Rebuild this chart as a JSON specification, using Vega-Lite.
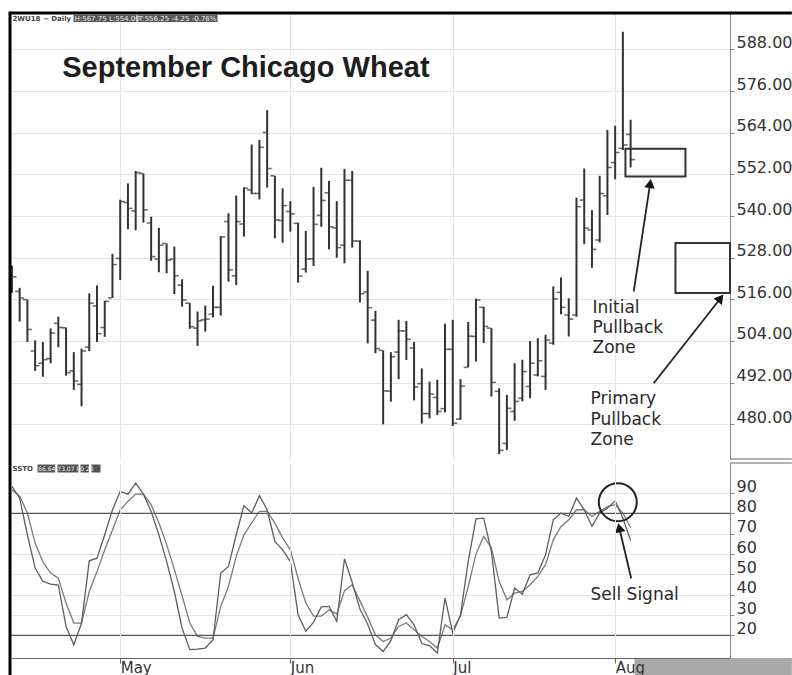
{
"$schema": "https://vega.github.io/schema/vega-lite/v6.json",
"padding": {"left": 8, "top": 10, "right": 0, "bottom": 0},
"background": "white",
"config": {"view": {"stroke": null}, "font": "DejaVu Sans", "axis": {"labelFont": "DejaVu Sans"}},
"spacing": 4,
"bounds": "flush",
"resolve": {"scale": {"x": "shared", "y": "independent"}},
"datasets": {"bars": [
{"i":1,"date":"2018-04-11","open":523.5,"high":525.7,"low":517.9,"close":522.5,"k":93.3,"d":91.6},
{"i":2,"date":"2018-04-12","open":518.3,"high":519.3,"low":509.6,"close":516.4,"k":87.5,"d":88.5},
{"i":3,"date":"2018-04-13","open":515.9,"high":515.9,"low":503.7,"close":507.3,"k":69.5,"d":80.2},
{"i":4,"date":"2018-04-16","open":501.1,"high":504.2,"low":495.4,"close":496.9,"k":53.1,"d":65.4},
{"i":5,"date":"2018-04-17","open":497.6,"high":503.7,"low":493.7,"close":498.6,"k":46.6,"d":56.1},
{"i":6,"date":"2018-04-18","open":498.9,"high":507.6,"low":497.6,"close":506.3,"k":45.2,"d":50.7},
{"i":7,"date":"2018-04-19","open":509.1,"high":511.0,"low":502.2,"close":507.9,"k":44.8,"d":48.2},
{"i":8,"date":"2018-04-20","open":507.8,"high":507.9,"low":494.0,"close":494.9,"k":24.4,"d":35.9},
{"i":9,"date":"2018-04-23","open":495.4,"high":500.8,"low":489.9,"close":492.5,"k":15.4,"d":26.1},
{"i":10,"date":"2018-04-24","open":491.5,"high":501.8,"low":485.2,"close":501.1,"k":26.1,"d":26.1},
{"i":11,"date":"2018-04-25","open":502.2,"high":517.7,"low":501.1,"close":514.9,"k":56.7,"d":41.6},
{"i":12,"date":"2018-04-26","open":514.1,"high":520.0,"low":503.7,"close":506.1,"k":58.0,"d":51.5},
{"i":13,"date":"2018-04-27","open":507.9,"high":515.6,"low":505.2,"close":515.4,"k":69.5,"d":62.1},
{"i":14,"date":"2018-04-30","open":516.4,"high":529.1,"low":516.4,"close":526.0,"k":81.8,"d":71.8},
{"i":15,"date":"2018-05-01","open":527.8,"high":544.7,"low":521.6,"close":544.2,"k":90.8,"d":81.8},
{"i":16,"date":"2018-05-02","open":543.9,"high":549.4,"low":536.2,"close":542.2,"k":89.5,"d":85.9},
{"i":17,"date":"2018-05-03","open":541.5,"high":553.0,"low":535.9,"close":552.5,"k":94.9,"d":89.5},
{"i":18,"date":"2018-05-04","open":552.3,"high":552.3,"low":538.1,"close":541.8,"k":89.5,"d":89.5},
{"i":19,"date":"2018-05-07","open":538.0,"high":539.8,"low":527.1,"close":528.3,"k":81.0,"d":84.3},
{"i":20,"date":"2018-05-08","open":527.6,"high":536.6,"low":523.8,"close":531.6,"k":69.5,"d":75.4},
{"i":21,"date":"2018-05-09","open":532.1,"high":532.1,"low":523.5,"close":527.3,"k":56.4,"d":64.8},
{"i":22,"date":"2018-05-10","open":527.6,"high":531.2,"low":517.5,"close":522.8,"k":41.6,"d":52.5},
{"i":23,"date":"2018-05-11","open":520.1,"high":521.8,"low":513.9,"close":515.8,"k":23.6,"d":39.5},
{"i":24,"date":"2018-05-14","open":514.9,"high":514.9,"low":507.5,"close":508.1,"k":13.0,"d":26.1},
{"i":25,"date":"2018-05-15","open":507.7,"high":512.5,"low":502.6,"close":509.8,"k":13.3,"d":19.5},
{"i":26,"date":"2018-05-16","open":510.1,"high":514.2,"low":506.7,"close":510.3,"k":13.8,"d":18.7},
{"i":27,"date":"2018-05-17","open":511.7,"high":519.9,"low":510.8,"close":513.7,"k":17.9,"d":18.7},
{"i":28,"date":"2018-05-18","open":513.7,"high":534.2,"low":511.3,"close":534.0,"k":50.7,"d":34.3},
{"i":29,"date":"2018-05-21","open":538.4,"high":540.8,"low":521.1,"close":524.5,"k":53.9,"d":44.1},
{"i":30,"date":"2018-05-22","open":522.8,"high":545.9,"low":520.1,"close":538.4,"k":69.5,"d":58.9},
{"i":31,"date":"2018-05-23","open":537.7,"high":548.3,"low":534.1,"close":548.0,"k":83.8,"d":69.5},
{"i":32,"date":"2018-05-24","open":547.5,"high":560.6,"low":546.3,"close":546.5,"k":80.2,"d":75.4},
{"i":33,"date":"2018-05-25","open":546.5,"high":561.9,"low":544.8,"close":559.8,"k":88.7,"d":81.0},
{"i":34,"date":"2018-05-29","open":564.1,"high":570.5,"low":548.2,"close":553.7,"k":81.8,"d":81.0},
{"i":35,"date":"2018-05-30","open":551.6,"high":551.6,"low":533.6,"close":538.9,"k":66.2,"d":75.2},
{"i":36,"date":"2018-05-31","open":538.7,"high":548.0,"low":532.3,"close":543.0,"k":62.1,"d":68.0},
{"i":37,"date":"2018-06-01","open":541.3,"high":544.3,"low":535.5,"close":540.6,"k":56.4,"d":62.1},
{"i":38,"date":"2018-06-04","open":537.9,"high":538.1,"low":520.8,"close":522.7,"k":30.2,"d":48.0},
{"i":39,"date":"2018-06-05","open":524.7,"high":535.7,"low":523.7,"close":527.6,"k":22.0,"d":36.0},
{"i":40,"date":"2018-06-06","open":527.7,"high":548.4,"low":525.6,"close":537.6,"k":26.5,"d":29.5},
{"i":41,"date":"2018-06-07","open":540.2,"high":553.9,"low":536.9,"close":544.5,"k":34.0,"d":29.5},
{"i":42,"date":"2018-06-08","open":546.7,"high":550.1,"low":530.4,"close":536.9,"k":34.3,"d":32.5},
{"i":43,"date":"2018-06-11","open":536.6,"high":544.3,"low":528.0,"close":530.9,"k":26.9,"d":30.5},
{"i":44,"date":"2018-06-12","open":531.6,"high":553.6,"low":526.4,"close":550.3,"k":57.7,"d":42.0},
{"i":45,"date":"2018-06-13","open":550.3,"high":553.0,"low":530.9,"close":532.8,"k":46.0,"d":44.9},
{"i":46,"date":"2018-06-14","open":532.8,"high":533.0,"low":515.1,"close":517.6,"k":33.0,"d":37.0},
{"i":47,"date":"2018-06-15","open":518.1,"high":524.2,"low":503.3,"close":513.6,"k":25.5,"d":29.0},
{"i":48,"date":"2018-06-18","open":510.0,"high":512.7,"low":500.5,"close":501.8,"k":15.5,"d":20.3},
{"i":49,"date":"2018-06-19","open":501.3,"high":501.3,"low":480.0,"close":489.6,"k":12.1,"d":17.0},
{"i":50,"date":"2018-06-20","open":489.6,"high":500.8,"low":486.5,"close":499.5,"k":17.4,"d":18.7},
{"i":51,"date":"2018-06-21","open":500.8,"high":510.1,"low":493.0,"close":506.9,"k":27.7,"d":24.4},
{"i":52,"date":"2018-06-22","open":506.9,"high":509.8,"low":498.5,"close":504.5,"k":30.2,"d":26.1},
{"i":53,"date":"2018-06-25","open":502.0,"high":503.7,"low":486.9,"close":490.8,"k":25.2,"d":22.8},
{"i":54,"date":"2018-06-26","open":491.7,"high":496.1,"low":480.2,"close":483.1,"k":16.0,"d":19.5},
{"i":55,"date":"2018-06-27","open":483.1,"high":492.3,"low":481.7,"close":488.7,"k":15.0,"d":17.0},
{"i":56,"date":"2018-06-28","open":487.7,"high":492.8,"low":482.7,"close":483.7,"k":11.3,"d":13.8},
{"i":57,"date":"2018-06-29","open":484.5,"high":509.0,"low":483.4,"close":501.6,"k":38.4,"d":25.2},
{"i":58,"date":"2018-07-02","open":501.6,"high":510.1,"low":479.5,"close":480.3,"k":21.1,"d":22.8},
{"i":59,"date":"2018-07-03","open":481.5,"high":493.0,"low":481.3,"close":491.0,"k":30.0,"d":29.5},
{"i":60,"date":"2018-07-05","open":496.4,"high":509.5,"low":496.4,"close":505.4,"k":56.4,"d":44.0},
{"i":61,"date":"2018-07-06","open":505.3,"high":516.2,"low":498.1,"close":515.8,"k":77.3,"d":60.0},
{"i":62,"date":"2018-07-09","open":513.7,"high":513.9,"low":503.4,"close":508.2,"k":77.7,"d":68.7},
{"i":63,"date":"2018-07-10","open":507.7,"high":507.7,"low":488.0,"close":492.1,"k":61.3,"d":63.0},
{"i":64,"date":"2018-07-11","open":489.5,"high":490.4,"low":471.4,"close":472.5,"k":28.5,"d":46.6},
{"i":65,"date":"2018-07-12","open":474.5,"high":488.5,"low":472.6,"close":484.6,"k":28.9,"d":37.5},
{"i":66,"date":"2018-07-13","open":483.7,"high":497.6,"low":481.0,"close":486.6,"k":43.3,"d":40.8},
{"i":67,"date":"2018-07-16","open":487.5,"high":498.6,"low":486.6,"close":495.2,"k":40.3,"d":41.6},
{"i":68,"date":"2018-07-17","open":490.9,"high":504.0,"low":487.5,"close":497.6,"k":49.8,"d":44.9},
{"i":69,"date":"2018-07-18","open":494.2,"high":504.8,"low":493.8,"close":498.3,"k":50.7,"d":49.0},
{"i":70,"date":"2018-07-19","open":493.8,"high":505.8,"low":489.9,"close":504.3,"k":59.7,"d":54.8},
{"i":71,"date":"2018-07-20","open":503.4,"high":519.7,"low":502.9,"close":516.1,"k":76.9,"d":67.0},
{"i":72,"date":"2018-07-23","open":518.0,"high":522.3,"low":511.7,"close":513.7,"k":80.2,"d":73.6},
{"i":73,"date":"2018-07-24","open":511.5,"high":516.3,"low":505.3,"close":510.3,"k":78.5,"d":76.9},
{"i":74,"date":"2018-07-25","open":511.5,"high":545.3,"low":511.0,"close":542.7,"k":87.5,"d":81.8},
{"i":75,"date":"2018-07-26","open":544.6,"high":553.7,"low":531.9,"close":536.5,"k":81.8,"d":81.8},
{"i":76,"date":"2018-07-27","open":536.0,"high":541.7,"low":525.1,"close":530.4,"k":73.6,"d":78.5},
{"i":77,"date":"2018-07-30","open":533.1,"high":551.6,"low":532.4,"close":546.5,"k":80.2,"d":81.0},
{"i":78,"date":"2018-07-31","open":545.8,"high":564.8,"low":540.3,"close":554.0,"k":82.6,"d":83.4},
{"i":79,"date":"2018-08-01","open":555.4,"high":566.0,"low":550.6,"close":558.3,"k":86.2,"d":84.3},
{"i":80,"date":"2018-08-02","open":559.5,"high":593.1,"low":559.0,"close":560.5,"k":77.7,"d":80.2},
{"i":81,"date":"2018-08-03","open":563.5,"high":567.75,"low":554.0,"close":556.25,"k":66.64,"d":73.07}
]},
"vconcat": [
{
"width": 720, "height": 446,
"data": {"name": "bars"},
"layer": [
{"mark": {"type": "rule", "color": "#333", "strokeWidth": 2},
 "encoding": {
  "x": {"field": "i", "type": "quantitative", "scale": {"domain": [0.75, 93.85], "nice": false, "zero": false},
   "axis": {"values": [15, 37, 58, 79], "tickCount": 40, "labels": false, "ticks": false, "domain": false, "grid": true, "gridColor": "#e4e4e4", "title": null}},
  "y": {"field": "low", "type": "quantitative", "scale": {"domain": [470, 598.5], "nice": false, "zero": false},
   "axis": {"orient": "right", "values": [480, 492, 504, 516, 528, 540, 552, 564, 576, 588], "tickCount": 40, "format": ".2f", "grid": true, "gridColor": "#e4e4e4", "domainColor": "#888", "tickColor": "#888", "tickSize": 4, "labelFontSize": 16, "labelColor": "#333", "labelBaseline": "alphabetic", "labelOffset": -2, "labelOverlap": false, "labelPadding": 2, "title": null}},
  "y2": {"field": "high"}}},
{"data": {"values": [{}]}, "mark": {"type": "rule", "color": "#000", "strokeWidth": 3, "clip": false},
 "encoding": {"x": {"datum": 0.75, "type": "quantitative", "scale": {"domain": [0.75, 93.85], "nice": false, "zero": false}},
  "y": {"datum": 598.9, "type": "quantitative", "scale": {"domain": [470, 598.5], "nice": false, "zero": false}},
  "y2": {"datum": 468.8}}},
{"data": {"values": [{}]}, "mark": {"type": "rule", "color": "#000", "strokeWidth": 3, "clip": false},
 "encoding": {"x": {"datum": 0.75, "type": "quantitative", "scale": {"domain": [0.75, 93.85], "nice": false, "zero": false}},
  "x2": {"datum": 101.85},
  "y": {"datum": 598.5, "type": "quantitative", "scale": {"domain": [470, 598.5], "nice": false, "zero": false}}}},
{"data": {"values": [{}]}, "mark": {"type": "rule", "color": "#666", "strokeWidth": 1, "clip": false},
 "encoding": {"x": {"datum": 93.85, "type": "quantitative", "scale": {"domain": [0.75, 93.85], "nice": false, "zero": false}},
  "x2": {"datum": 101.85},
  "y": {"datum": 470, "type": "quantitative", "scale": {"domain": [470, 598.5], "nice": false, "zero": false}}}},
{"mark": {"type": "tick", "orient": "horizontal", "size": 4, "thickness": 1.6, "xOffset": -2.5, "color": "#333", "clip": true},
 "encoding": {"x": {"field": "i", "type": "quantitative", "title": null, "scale": {"domain": [0.75, 93.85], "nice": false, "zero": false}},
  "y": {"field": "open", "type": "quantitative", "title": null, "scale": {"domain": [470, 598.5], "nice": false, "zero": false}}}},
{"mark": {"type": "tick", "orient": "horizontal", "size": 4, "thickness": 1.6, "xOffset": 2.5, "color": "#333", "clip": true},
 "encoding": {"x": {"field": "i", "type": "quantitative", "title": null, "scale": {"domain": [0.75, 93.85], "nice": false, "zero": false}},
  "y": {"field": "close", "type": "quantitative", "title": null, "scale": {"domain": [470, 598.5], "nice": false, "zero": false}}}},
{"data": {"values": [{}]}, "mark": {"type": "text", "text": "September Chicago Wheat", "font": "Liberation Sans", "fontWeight": "bold", "fontSize": 29, "align": "left", "baseline": "alphabetic", "color": "#1e1e1e"},
 "encoding": {"x": {"datum": 7.5, "type": "quantitative", "scale": {"domain": [0.75, 93.85], "nice": false, "zero": false}},
  "y": {"datum": 580.2, "type": "quantitative", "scale": {"domain": [470, 598.5], "nice": false, "zero": false}}}},
{"data": {"values": [{}]}, "mark": {"type": "rect", "color": "#555"},
 "encoding": {"x": {"datum": 8.96, "type": "quantitative", "scale": {"domain": [0.75, 93.85], "nice": false, "zero": false}}, "x2": {"datum": 17.11},
  "y": {"datum": 598.07, "type": "quantitative", "scale": {"domain": [470, 598.5], "nice": false, "zero": false}}, "y2": {"datum": 595.9}}},
{"data": {"values": [{}]}, "mark": {"type": "rect", "color": "#555"},
 "encoding": {"x": {"datum": 17.24, "type": "quantitative", "scale": {"domain": [0.75, 93.85], "nice": false, "zero": false}}, "x2": {"datum": 27.58},
  "y": {"datum": 598.07, "type": "quantitative", "scale": {"domain": [470, 598.5], "nice": false, "zero": false}}, "y2": {"datum": 595.9}}},
{"data": {"values": [{}]}, "mark": {"type": "text", "text": "2WU18 ~ Daily", "fontSize": 7, "fontWeight": "bold", "align": "left", "baseline": "alphabetic", "color": "#444"},
 "encoding": {"x": {"datum": 1.07, "type": "quantitative", "scale": {"domain": [0.75, 93.85], "nice": false, "zero": false}},
  "y": {"datum": 596.3, "type": "quantitative", "scale": {"domain": [470, 598.5], "nice": false, "zero": false}}}},
{"data": {"values": [{}]}, "mark": {"type": "text", "text": "H:567.75 L:554.00", "fontSize": 7, "align": "left", "baseline": "alphabetic", "color": "#eeeeee"},
 "encoding": {"x": {"datum": 9.1, "type": "quantitative", "scale": {"domain": [0.75, 93.85], "nice": false, "zero": false}},
  "y": {"datum": 596.3, "type": "quantitative", "scale": {"domain": [470, 598.5], "nice": false, "zero": false}}}},
{"data": {"values": [{}]}, "mark": {"type": "text", "text": "T:556.25  -4.25  -0.76%", "fontSize": 7, "align": "left", "baseline": "alphabetic", "color": "#eeeeee"},
 "encoding": {"x": {"datum": 17.4, "type": "quantitative", "scale": {"domain": [0.75, 93.85], "nice": false, "zero": false}},
  "y": {"datum": 596.3, "type": "quantitative", "scale": {"domain": [470, 598.5], "nice": false, "zero": false}}}},
{"data": {"values": [{}]}, "mark": {"type": "rect", "filled": false, "color": "#333", "strokeWidth": 2},
 "encoding": {"x": {"datum": 80.33, "type": "quantitative", "scale": {"domain": [0.75, 93.85], "nice": false, "zero": false}}, "x2": {"datum": 88.09},
  "y": {"datum": 559.37, "type": "quantitative", "scale": {"domain": [470, 598.5], "nice": false, "zero": false}}, "y2": {"datum": 551.4}}},
{"data": {"values": [{}]}, "mark": {"type": "rect", "filled": false, "color": "#333", "strokeWidth": 2},
 "encoding": {"x": {"datum": 86.8, "type": "quantitative", "scale": {"domain": [0.75, 93.85], "nice": false, "zero": false}}, "x2": {"datum": 93.85},
  "y": {"datum": 532.2, "type": "quantitative", "scale": {"domain": [470, 598.5], "nice": false, "zero": false}}, "y2": {"datum": 517.8}}},
{"data": {"values": [{}]}, "mark": {"type": "rule", "color": "#222", "strokeWidth": 1.8},
 "encoding": {"x": {"datum": 81.4, "type": "quantitative", "scale": {"domain": [0.75, 93.85], "nice": false, "zero": false}}, "x2": {"datum": 83.53},
  "y": {"datum": 518.26, "type": "quantitative", "scale": {"domain": [470, 598.5], "nice": false, "zero": false}}, "y2": {"datum": 549.38}}},
{"data": {"values": [{}]}, "mark": {"type": "point", "shape": "triangle-up", "filled": true, "size": 110, "angle": 8.7, "color": "#111", "opacity": 1},
 "encoding": {"x": {"datum": 83.53, "type": "quantitative", "scale": {"domain": [0.75, 93.85], "nice": false, "zero": false}},
  "y": {"datum": 549.38, "type": "quantitative", "scale": {"domain": [470, 598.5], "nice": false, "zero": false}}}},
{"data": {"values": [{}]}, "mark": {"type": "rule", "color": "#222", "strokeWidth": 1.8},
 "encoding": {"x": {"datum": 83.99, "type": "quantitative", "scale": {"domain": [0.75, 93.85], "nice": false, "zero": false}}, "x2": {"datum": 92.63},
  "y": {"datum": 491.84, "type": "quantitative", "scale": {"domain": [470, 598.5], "nice": false, "zero": false}}, "y2": {"datum": 516.33}}},
{"data": {"values": [{}]}, "mark": {"type": "point", "shape": "triangle-up", "filled": true, "size": 110, "angle": 38.1, "color": "#111", "opacity": 1},
 "encoding": {"x": {"datum": 92.63, "type": "quantitative", "scale": {"domain": [0.75, 93.85], "nice": false, "zero": false}},
  "y": {"datum": 516.33, "type": "quantitative", "scale": {"domain": [470, 598.5], "nice": false, "zero": false}}}},
{"data": {"values": [{}]}, "mark": {"type": "text", "text": "Initial\nPullback\nZone", "lineBreak": "\n", "lineHeight": 20, "fontSize": 17, "align": "left", "baseline": "alphabetic", "color": "#2a2a2a"},
 "encoding": {"x": {"datum": 76.07, "type": "quantitative", "scale": {"domain": [0.75, 93.85], "nice": false, "zero": false}},
  "y": {"datum": 512.0, "type": "quantitative", "scale": {"domain": [470, 598.5], "nice": false, "zero": false}}}},
{"data": {"values": [{}]}, "mark": {"type": "text", "text": "Primary\nPullback\nZone", "lineBreak": "\n", "lineHeight": 20.5, "fontSize": 17, "align": "left", "baseline": "alphabetic", "color": "#2a2a2a"},
 "encoding": {"x": {"datum": 75.81, "type": "quantitative", "scale": {"domain": [0.75, 93.85], "nice": false, "zero": false}},
  "y": {"datum": 485.8, "type": "quantitative", "scale": {"domain": [470, 598.5], "nice": false, "zero": false}}}}
]
},
{
"width": 720, "height": 195,
"data": {"name": "bars"},
"layer": [
{"mark": {"type": "line", "color": "#7a7a7a", "strokeWidth": 1.3},
 "encoding": {
  "x": {"field": "i", "type": "quantitative", "scale": {"domain": [0.75, 93.85], "nice": false, "zero": false},
   "axis": {"values": [15, 37, 58, 79], "tickCount": 40, "labelExpr": "datum.value == 15 ? 'May' : datum.value == 37 ? 'Jun' : datum.value == 58 ? 'Jul' : 'Aug'", "grid": true, "gridColor": "#e4e4e4", "domainColor": "#666", "tickColor": "#666", "tickSize": 5, "labelAlign": "left", "labelBaseline": "top", "labelPadding": -3, "labelFontSize": 15, "labelColor": "#333", "title": null, "zindex": 1}},
  "y": {"field": "d", "type": "quantitative", "scale": {"domain": [8.9, 104.8], "nice": false, "zero": false},
   "axis": {"orient": "right", "values": [20, 30, 40, 50, 60, 70, 80, 90], "tickCount": 40, "grid": true, "gridColor": "#e4e4e4", "domainColor": "#888", "tickColor": "#888", "tickSize": 4, "labelFontSize": 16, "labelColor": "#333", "labelBaseline": "alphabetic", "labelOffset": -2, "labelOverlap": false, "labelPadding": 2, "title": null}}}},
{"data": {"values": [{}]}, "mark": {"type": "rule", "color": "#555", "strokeWidth": 1.2},
 "encoding": {"y": {"datum": 80, "type": "quantitative", "scale": {"domain": [8.9, 104.8], "nice": false, "zero": false}}}},
{"data": {"values": [{}]}, "mark": {"type": "rule", "color": "#555", "strokeWidth": 1.2},
 "encoding": {"y": {"datum": 20, "type": "quantitative", "scale": {"domain": [8.9, 104.8], "nice": false, "zero": false}}}},
{"mark": {"type": "line", "color": "#5e5e5e", "strokeWidth": 1.3},
 "encoding": {"x": {"field": "i", "type": "quantitative", "title": null, "scale": {"domain": [0.75, 93.85], "nice": false, "zero": false}},
  "y": {"field": "k", "type": "quantitative", "title": null, "scale": {"domain": [8.9, 104.8], "nice": false, "zero": false}}}},
{"data": {"values": [{}]}, "mark": {"type": "rule", "color": "#000", "strokeWidth": 3, "clip": false},
 "encoding": {"x": {"datum": 0.75, "type": "quantitative", "scale": {"domain": [0.75, 93.85], "nice": false, "zero": false}},
  "y": {"datum": 104.8, "type": "quantitative", "scale": {"domain": [8.9, 104.8], "nice": false, "zero": false}},
  "y2": {"datum": -0.3}}},
{"data": {"values": [{}]}, "mark": {"type": "rule", "color": "#666", "strokeWidth": 1, "clip": false},
 "encoding": {"x": {"datum": 93.85, "type": "quantitative", "scale": {"domain": [0.75, 93.85], "nice": false, "zero": false}},
  "x2": {"datum": 101.85},
  "y": {"datum": 104.8, "type": "quantitative", "scale": {"domain": [8.9, 104.8], "nice": false, "zero": false}}}},
{"data": {"values": [{}]}, "mark": {"type": "rect", "color": "#aaaaaa", "clip": false},
 "encoding": {"x": {"datum": 81.5, "type": "quantitative", "scale": {"domain": [0.75, 93.85], "nice": false, "zero": false}}, "x2": {"datum": 101.85},
  "y": {"datum": 8.9, "type": "quantitative", "scale": {"domain": [8.9, 104.8], "nice": false, "zero": false}}, "y2": {"datum": -0.3}}},
{"data": {"values": [{}]}, "mark": {"type": "text", "text": "SSTO", "fontSize": 7, "fontWeight": "bold", "align": "left", "baseline": "alphabetic", "color": "#444"},
 "encoding": {"x": {"datum": 1.07, "type": "quantitative", "scale": {"domain": [0.75, 93.85], "nice": false, "zero": false}},
  "y": {"datum": 100.62, "type": "quantitative", "scale": {"domain": [8.9, 104.8], "nice": false, "zero": false}}}},
{"data": {"values": [{}]}, "mark": {"type": "rect", "color": "#555"},
 "encoding": {"x": {"datum": 4.31, "type": "quantitative", "scale": {"domain": [0.75, 93.85], "nice": false, "zero": false}}, "x2": {"datum": 6.6},
  "y": {"datum": 104.06, "type": "quantitative", "scale": {"domain": [8.9, 104.8], "nice": false, "zero": false}}, "y2": {"datum": 100.13}}},
{"data": {"values": [{}]}, "mark": {"type": "rect", "color": "#555"},
 "encoding": {"x": {"datum": 6.89, "type": "quantitative", "scale": {"domain": [0.75, 93.85], "nice": false, "zero": false}}, "x2": {"datum": 9.61},
  "y": {"datum": 104.06, "type": "quantitative", "scale": {"domain": [8.9, 104.8], "nice": false, "zero": false}}, "y2": {"datum": 100.13}}},
{"data": {"values": [{}]}, "mark": {"type": "rect", "color": "#555"},
 "encoding": {"x": {"datum": 9.87, "type": "quantitative", "scale": {"domain": [0.75, 93.85], "nice": false, "zero": false}}, "x2": {"datum": 10.95},
  "y": {"datum": 104.06, "type": "quantitative", "scale": {"domain": [8.9, 104.8], "nice": false, "zero": false}}, "y2": {"datum": 100.13}}},
{"data": {"values": [{}]}, "mark": {"type": "rect", "color": "#555"},
 "encoding": {"x": {"datum": 11.29, "type": "quantitative", "scale": {"domain": [0.75, 93.85], "nice": false, "zero": false}}, "x2": {"datum": 12.45},
  "y": {"datum": 104.06, "type": "quantitative", "scale": {"domain": [8.9, 104.8], "nice": false, "zero": false}}, "y2": {"datum": 100.13}}},
{"data": {"values": [{}]}, "mark": {"type": "text", "text": "66.64  73.07  80  20", "fontSize": 6, "align": "left", "baseline": "alphabetic", "color": "#eeeeee"},
 "encoding": {"x": {"datum": 4.4, "type": "quantitative", "scale": {"domain": [0.75, 93.85], "nice": false, "zero": false}},
  "y": {"datum": 100.8, "type": "quantitative", "scale": {"domain": [8.9, 104.8], "nice": false, "zero": false}}}},
{"data": {"values": [{}]}, "mark": {"type": "point", "shape": "circle", "filled": false, "size": 1444, "color": "#222", "strokeWidth": 2, "opacity": 1},
 "encoding": {"x": {"datum": 79.34, "type": "quantitative", "scale": {"domain": [0.75, 93.85], "nice": false, "zero": false}},
  "y": {"datum": 85.52, "type": "quantitative", "scale": {"domain": [8.9, 104.8], "nice": false, "zero": false}}}},
{"data": {"values": [{}]}, "mark": {"type": "rule", "color": "#222", "strokeWidth": 1.8},
 "encoding": {"x": {"datum": 81.07, "type": "quantitative", "scale": {"domain": [0.75, 93.85], "nice": false, "zero": false}}, "x2": {"datum": 79.53},
  "y": {"datum": 48.15, "type": "quantitative", "scale": {"domain": [8.9, 104.8], "nice": false, "zero": false}}, "y2": {"datum": 72.99}}},
{"data": {"values": [{}]}, "mark": {"type": "point", "shape": "triangle-up", "filled": true, "size": 110, "angle": -13.3, "color": "#111", "opacity": 1},
 "encoding": {"x": {"datum": 79.53, "type": "quantitative", "scale": {"domain": [0.75, 93.85], "nice": false, "zero": false}},
  "y": {"datum": 72.99, "type": "quantitative", "scale": {"domain": [8.9, 104.8], "nice": false, "zero": false}}}},
{"data": {"values": [{}]}, "mark": {"type": "text", "text": "Sell Signal", "fontSize": 17, "align": "left", "baseline": "alphabetic", "color": "#2a2a2a"},
 "encoding": {"x": {"datum": 75.81, "type": "quantitative", "scale": {"domain": [0.75, 93.85], "nice": false, "zero": false}},
  "y": {"datum": 37.52, "type": "quantitative", "scale": {"domain": [8.9, 104.8], "nice": false, "zero": false}}}}
]
}
]
}
